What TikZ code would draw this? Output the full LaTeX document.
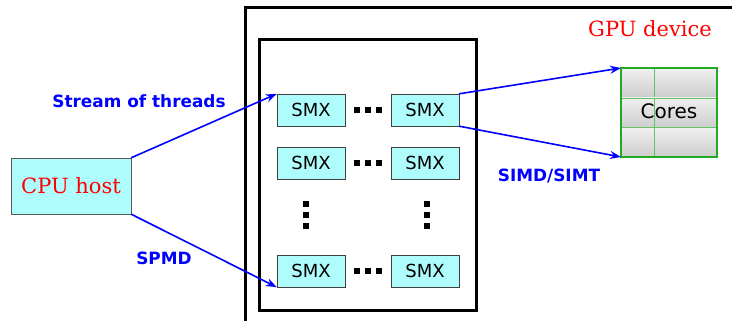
\documentclass[tikz,border=0pt]{standalone}
\usepackage{fontspec}
\setmainfont{DejaVu Serif}
\setsansfont{DejaVu Sans}
\usetikzlibrary{arrows.meta}
\definecolor{cyanfill}{HTML}{AFFCFC}
\definecolor{arrblue}{HTML}{0000FF}
\definecolor{coregreen}{HTML}{22AA22}
\tikzset{
  smx/.style={draw=black!75, fill=cyanfill, minimum width=68pt, minimum height=32pt, inner sep=0pt, font=\sffamily\fontsize{18}{18}\selectfont},
  conn/.style={draw=arrblue, line width=1.6pt, -{Stealth[length=11pt,width=8pt]}},
  lbl/.style={text=arrblue, font=\sffamily\bfseries\fontsize{16.9}{17}\selectfont},
  sq/.style={fill=black, minimum size=5.5pt, inner sep=0pt},
  cell/.style={draw=coregreen!70, top color=black!6, bottom color=black!20, minimum width=33pt, minimum height=30pt, inner sep=0pt}
}
\begin{document}
\begin{tikzpicture}[x=1pt,y=-1pt]
\useasboundingbox (0,0) rectangle (732,321);
% GPU device box (extends off page)
\draw[line width=3pt] (245,340) -- (245,8) -- (750,8);
\node[text=red, font=\fontsize{21}{21}\selectfont] (gpu) at (650,29) {GPU device};
% inner box
\draw[line width=3pt] (259,40) rectangle (476,310);
% SMX nodes
\node[smx] (a1) at (311,110) {SMX};
\node[smx] (a2) at (425,110) {SMX};
\node[smx] (b1) at (311,163) {SMX};
\node[smx] (b2) at (425,163) {SMX};
\node[smx] (c1) at (311,271) {SMX};
\node[smx] (c2) at (425,271) {SMX};
% horizontal dots
\foreach \y in {110,163,271}{
  \node[sq] at (357,\y) {};
  \node[sq] at (368,\y) {};
  \node[sq] at (379,\y) {};
}
% vertical dots
\foreach \x in {306,427}{
  \node[sq] at (\x,204) {};
  \node[sq] at (\x,215) {};
  \node[sq] at (\x,226) {};
}
% CPU host
\node[draw=black!65, fill=cyanfill, minimum width=120pt, minimum height=56pt, inner sep=0pt, text=red, font=\fontsize{21}{21}\selectfont] (cpu) at (71,186) {CPU host};
% Cores
\foreach \r/\y in {1/83,2/113,3/142.5}{
  \node[cell] (l\r) at (637.5,\y) {};
  \node[cell, minimum width=63pt] (r\r) at (685.5,\y) {};
}
\draw[coregreen, line width=1.3pt] (621,68) rectangle (717,157);
\node[font=\sffamily\fontsize{20}{20}\selectfont] (cores) at (669,111) {Cores};
\coordinate (ctl) at (621,68);
\coordinate (cbl) at (621,157);
% connectors
\draw[conn] (cpu.north east) -- (a1.north west);
\draw[conn] (cpu.south east) -- (c1.south west);
\draw[conn] (a2.north east) -- (ctl);
\draw[conn] (a2.south east) -- (cbl);
% labels
\node[lbl] (l1) at (139,101) {Stream of threads};
\node[lbl] (l2) at (164,258) {SPMD};
\node[lbl] (l3) at (549,176) {SIMD/SIMT};
\end{tikzpicture}
\end{document}
